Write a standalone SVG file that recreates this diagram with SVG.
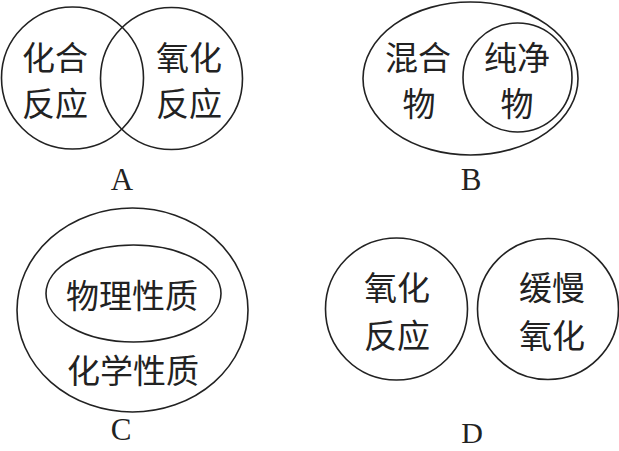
<svg xmlns="http://www.w3.org/2000/svg" width="619" height="451" viewBox="0 0 619 451">
<style>
.s{fill:none;stroke:#222;stroke-width:1.6}
.t{font-family:"Noto Sans CJK SC","Noto Sans CJK JP",sans-serif;font-size:33px;fill:#222;text-anchor:middle}
.l{font-family:"Liberation Serif",serif;font-size:31px;fill:#222;text-anchor:middle}
</style>
<rect width="619" height="451" fill="#fff"/>
<g id="A">
<circle class="s" cx="72.5" cy="78" r="71"/>
<circle class="s" cx="171.5" cy="78.5" r="71"/>
<text class="t" x="55" y="70">化合</text>
<text class="t" x="55" y="116">反应</text>
<text class="t" x="189" y="70">氧化</text>
<text class="t" x="189" y="116">反应</text>
<text class="l" x="122" y="190">A</text>
</g>
<g id="B">
<ellipse class="s" cx="470.5" cy="78.5" rx="107.5" ry="76.5"/>
<circle class="s" cx="517.5" cy="77.5" r="54.5"/>
<text class="t" x="418" y="70">混合</text>
<text class="t" x="419" y="116">物</text>
<text class="t" x="517" y="70">纯净</text>
<text class="t" x="517" y="116">物</text>
<text class="l" x="471" y="190">B</text>
</g>
<g id="C">
<ellipse class="s" cx="132.5" cy="310" rx="115.5" ry="102"/>
<ellipse class="s" cx="133.5" cy="293.5" rx="87.5" ry="48.5"/>
<text class="t" x="132" y="308">物理性质</text>
<text class="t" x="133" y="383">化学性质</text>
<text class="l" x="121" y="440">C</text>
</g>
<g id="D">
<circle class="s" cx="396.5" cy="309" r="71"/>
<circle class="s" cx="548" cy="309" r="70.5"/>
<text class="t" x="397" y="300">氧化</text>
<text class="t" x="397" y="348">反应</text>
<text class="t" x="552" y="300">缓慢</text>
<text class="t" x="552" y="348">氧化</text>
<text class="l" x="472" y="443" style="font-size:30px">D</text>
</g>
</svg>
